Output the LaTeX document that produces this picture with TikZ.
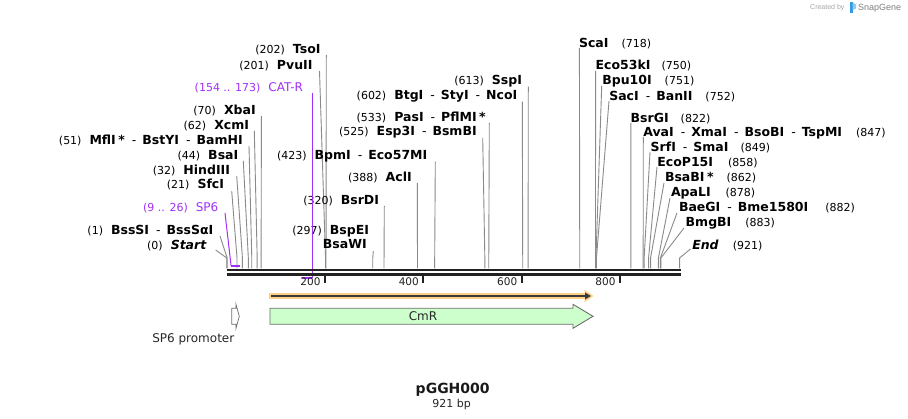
\documentclass[tikz,border=0pt]{standalone}
\usepackage{fontspec}
\setmainfont{DejaVu Sans}
\newfontfamily\sgfont{Liberation Sans}
\usetikzlibrary{arrows.meta}
\definecolor{cutgray}{HTML}{8A8A8A}
\definecolor{primerpurple}{HTML}{A030F8}
\definecolor{orfglow}{HTML}{FFCF85}
\definecolor{orfdark}{HTML}{3A3A3A}
\definecolor{cmrfill}{HTML}{CCFFCC}
\definecolor{featline}{HTML}{6E6E6E}
\definecolor{sgblue}{HTML}{2E9BE6}
\definecolor{bbdark}{HTML}{222222}
\newcommand\nb[1]{{\fontsize{11}{13}\selectfont\mdseries #1}}
\newcommand\sepd{\hspace{7pt}{\mdseries -}\hspace{6pt}}
\newcommand\bpx[1]{226.7+#1*0.4917}
\tikzset{
  lbl/.style={inner sep=0pt, outer sep=0pt, font=\fontsize{12.5}{14}\selectfont\bfseries, text=black},
  plbl/.style={inner sep=0pt, outer sep=0pt, font=\fontsize{12}{14}\selectfont, text=primerpurple},
  cut/.style={draw=cutgray, line width=0.9pt},
  primer/.style={draw=primerpurple, line width=1pt},
  primerbar/.style={draw=primerpurple, line width=2pt},
  bb/.style={draw=bbdark, line width=2.7pt},
  tickmark/.style={draw=bbdark, line width=1.8pt},
  ticklbl/.style={inner sep=0pt, font=\fontsize{10.5}{12}\selectfont, text=bbdark},
  feat/.style={draw=featline, line width=0.9pt},
  plain/.style={inner sep=0pt, font=\fontsize{12}{14}\selectfont, text=black!85},
}
\newcommand\LeftCut[7]{%
  \node[lbl,anchor=base east] (#1) at ({#3},{#4+4.5}) {#2};
  \coordinate (#1t) at ({#5},{#6});
  \coordinate (#1b) at ({\bpx{#7}},258);
  \coordinate (#1s) at ({\bpx{#7}},268.5);
  \draw[cut] (#1t) -- (#1b) -- (#1s);
}
\newcommand\RightCut[7]{%
  \node[lbl,anchor=base west] (#1) at ({#3},{#4+4.5}) {#2};
  \coordinate (#1t) at ({#5},{#6});
  \coordinate (#1b) at ({\bpx{#7}},258);
  \coordinate (#1s) at ({\bpx{#7}},268.5);
  \draw[cut] (#1t) -- (#1b) -- (#1s);
}
\begin{document}
\begin{tikzpicture}[x=1pt,y=-1pt]
\useasboundingbox[fill=white] (0,0) rectangle (908,419);

% ---- left group
\LeftCut{TsoI}{\nb{(202)}\hspace{8pt}TsoI}{320.5}{49}{326.3}{55}{202}
\LeftCut{PvuII}{\nb{(201)}\hspace{8pt}PvuII}{312.5}{65}{319.5}{71}{201}
\LeftCut{XbaI}{\nb{(70)}\hspace{8pt}XbaI}{255.7}{110}{261.4}{116}{70}
\LeftCut{XcmI}{\nb{(62)}\hspace{8pt}XcmI}{249}{125}{254.3}{131}{62}
\LeftCut{MflI}{\nb{(51)}\hspace{8pt}MflI\hspace{2.5pt}*\sepd BstYI\sepd BamHI}{242.7}{140}{249}{146}{51}
\LeftCut{BsaI}{\nb{(44)}\hspace{8pt}BsaI}{238.3}{155}{243.3}{161}{44}
\LeftCut{HindIII}{\nb{(32)}\hspace{8pt}HindIII}{230}{170}{236.7}{176}{32}
\LeftCut{SfcI}{\nb{(21)}\hspace{8pt}SfcI}{224}{184.5}{231.7}{191}{21}
\LeftCut{BssSI}{\nb{(1)}\hspace{8pt}BssSI\sepd BssSαI}{213.3}{230}{220}{236}{1}
\LeftCut{Start}{\nb{(0)}\hspace{8pt}\textit{Start}}{206.7}{245}{215.7}{250}{0}

% ---- middle group
\LeftCut{SspI}{\nb{(613)}\hspace{8pt}SspI}{522}{80}{528.3}{86.7}{613}
\LeftCut{BtgI}{\nb{(602)}\hspace{8pt}BtgI\sepd StyI\sepd NcoI}{517.3}{95}{522.3}{101.7}{602}
\LeftCut{PasI}{\nb{(533)}\hspace{8pt}PasI\sepd PflMI\hspace{2.5pt}*}{485.7}{116.7}{489.3}{123}{533}
\LeftCut{Esp3I}{\nb{(525)}\hspace{8pt}Esp3I\sepd BsmBI}{476.7}{131}{482.7}{138}{525}
\LeftCut{BpmI}{\nb{(423)}\hspace{8pt}BpmI\sepd Eco57MI}{427.3}{155}{435.3}{161.7}{423}
\LeftCut{AclI}{\nb{(388)}\hspace{8pt}AclI}{411.7}{176.7}{417.3}{183}{388}
\LeftCut{BsrDI}{\nb{(320)}\hspace{8pt}BsrDI}{379}{200}{384.3}{206}{320}
\LeftCut{BspEI}{\nb{(297)}\hspace{8pt}BspEI}{369}{230}{373.3}{251}{297}
\node[lbl,anchor=base east] (BsaWI) at (366.7,248.8) {BsaWI};

% ---- right group
\RightCut{ScaI}{ScaI\hspace{13pt}\nb{(718)}}{579}{43}{579.4}{48}{718}
\RightCut{Eco53kI}{Eco53kI\hspace{11pt}\nb{(750)}}{595.7}{65}{595.6}{71}{750}
\RightCut{Bpu10I}{Bpu10I\hspace{13pt}\nb{(751)}}{602.3}{80}{601.7}{86}{751}
\RightCut{SacI}{SacI\sepd BanII\hspace{13pt}\nb{(752)}}{609.3}{96}{609}{101}{752}
\RightCut{BsrGI}{BsrGI\hspace{12pt}\nb{(822)}}{630.7}{118}{630.8}{123}{822}
\RightCut{AvaI}{AvaI\sepd XmaI\sepd BsoBI\sepd TspMI\hspace{14pt}\nb{(847)}}{643.3}{132}{643.3}{137}{847}
\RightCut{SrfI}{SrfI\sepd SmaI\hspace{12pt}\nb{(849)}}{650.7}{147}{650}{152}{849}
\RightCut{EcoP15I}{EcoP15I\hspace{15pt}\nb{(858)}}{657.3}{162}{657}{167}{858}
\RightCut{BsaBI}{BsaBI\hspace{2.5pt}*\hspace{13pt}\nb{(862)}}{665}{177}{664}{183}{862}
\RightCut{ApaLI}{ApaLI\hspace{15pt}\nb{(878)}}{671}{192}{670}{198}{878}
\RightCut{BaeGI}{BaeGI\sepd Bme1580I\hspace{17pt}\nb{(882)}}{679}{207}{677}{213}{882}
\RightCut{BmgBI}{BmgBI\hspace{14pt}\nb{(883)}}{685.7}{222}{684}{228}{883}
\RightCut{End}{\textit{End}\hspace{14pt}\nb{(921)}}{692.3}{245}{690.5}{249}{921}

% ---- primers
\node[plbl,anchor=base east] (CATR) at (303,91.1) {{\fontsize{11}{13}\selectfont(154 .. 173)}\hspace{8pt}CAT-R};
\coordinate (catT) at (312.4,93);
\coordinate (catB) at (312.4,278.3);
\coordinate (catE) at (302.4,278.3);
\draw[primer] (catT) -- (catB);
\draw[primerbar] (catE) -- (catB);

\node[plbl,anchor=base east] (SPsix) at (218.3,211.7) {{\fontsize{11}{13}\selectfont(9 .. 26)}\hspace{8pt}SP6};
\coordinate (spT) at (225,213);
\coordinate (spB) at (231.1,266);
\coordinate (spE) at (239.5,266);
\draw[primer] (spT) -- (spB);
\draw[primerbar] (spB) -- (spE);

% ---- backbone
\coordinate (bbL1) at (226.7,269.9);
\coordinate (bbR1) at (680.5,269.9);
\coordinate (bbL2) at (226.7,274.4);
\coordinate (bbR2) at (680.5,274.4);
\draw[bb] (bbL1) -- (bbR1);
\draw[bb] (bbL2) -- (bbR2);

% ---- ticks
\foreach \v/\xx in {200/325.0, 400/423.3, 600/521.7, 800/620.0}{
  \coordinate (k\v a) at (\xx,275.5);
  \coordinate (k\v b) at (\xx,283);
  \draw[tickmark] (k\v a) -- (k\v b);
  \node[ticklbl,anchor=base east] (t\v) at (\xx-4.3,286) {\v};
}

% ---- ORF arrow
\coordinate (orfS) at (269,296);
\coordinate (orfE) at (593.5,296);
\coordinate (orfI) at (591,296);
\draw[draw=orfglow, line width=5.5pt, -{Triangle[length=9pt,width=12pt]}] (orfS) -- (orfE);
\draw[draw=orfdark, line width=1.6pt, -{Triangle[length=6pt,width=6.5pt]}] ([xshift=2pt]orfS) -- (orfI);

% ---- CmR feature
\filldraw[feat, fill=cmrfill] (270,308.3) -- (573,308.3) -- (573,304.3) -- (593,316.3) -- (573,328.3) -- (573,324.3) -- (270,324.3) -- cycle;
\node[plain,anchor=base] (CmR) at (423,320.6) {CmR};

% ---- SP6 promoter feature
\filldraw[feat, line width=0.7pt, fill=white] (231.7,308.3) -- (236,308.3) -- (236,304.3) -- (239.3,316.3) -- (236,328.3) -- (236,324.3) -- (231.7,324.3) -- cycle;
\node[plain,anchor=base] (SPprom) at (193.3,342.2) {SP6 promoter};

% ---- title
\node[inner sep=0pt, anchor=base, font=\fontsize{14}{16}\selectfont\bfseries, text=black!90] (title) at (452.7,393.2) {pGGH000};
\node[inner sep=0pt, anchor=base, font=\fontsize{11}{13}\selectfont, text=black!85] (len) at (451.7,407.3) {921 bp};

% ---- watermark
\node[inner sep=0pt, anchor=base west, font=\sgfont\fontsize{7}{8}\selectfont, text=black!35] (createdby) at (810,10) {Created by};
\fill[sgblue] (850,2.5) rectangle (852.6,13);
\fill[sgblue!55] (852.6,2.5) -- (855.8,4.3) -- (855.8,8.6) -- (852.6,10.2) -- cycle;
\node[inner sep=0pt, anchor=base west, font=\sgfont\fontsize{9}{10}\selectfont, text=black!50] (snapgene) at (858,10.5) {SnapGene};
\end{tikzpicture}
\end{document}
